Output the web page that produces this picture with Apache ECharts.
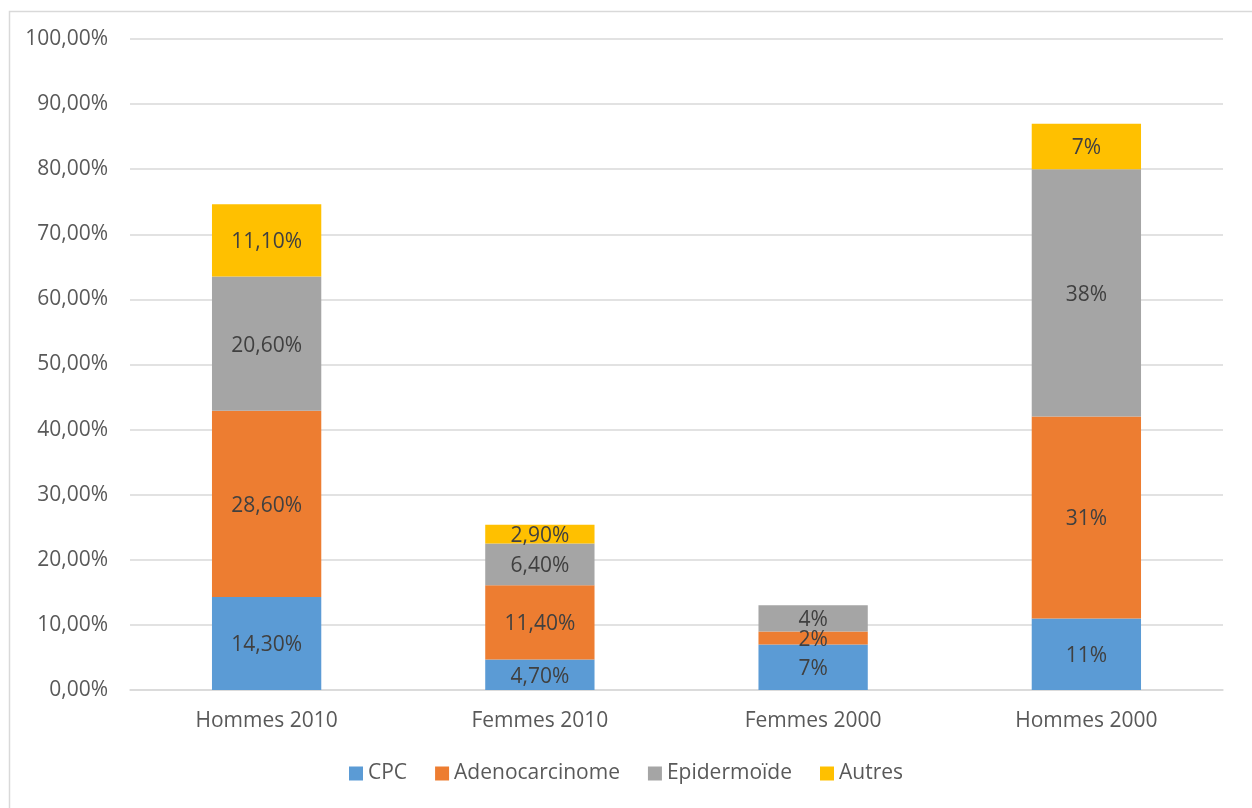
<!DOCTYPE html>
<html><head><meta charset="utf-8">
<script src="https://cdn.jsdelivr.net/npm/echarts@6/dist/echarts.min.js"></script>
<style>html,body{margin:0;padding:0;background:#fff}#c{width:1252px;height:808px}</style>
</head><body><div id="c"></div>
<script>
const categories = ['Hommes 2010', 'Femmes 2010', 'Femmes 2000', 'Hommes 2000'];
const labelDecimals = [2, 2, 0, 0];
const cpc = [14.3, 4.7, 7, 11];
const adeno = [28.6, 11.4, 2, 31];
const epid = [20.6, 6.4, 4, 38];
const autres = [11.1, 2.9, 0, 7];
const yTicks = [0, 10, 20, 30, 40, 50, 60, 70, 80, 90, 100];

const FONT = 'Open Sans';
function fmt(p) {
  if (!p.value) return '';
  return p.value.toFixed(labelDecimals[p.dataIndex]).replace('.', ',') + '%';
}
function mk(name, data, color) {
  return {
    name, type: 'bar', stack: 's', data, barWidth: '40%',
    itemStyle: { color },
    label: { show: true, position: 'inside', formatter: fmt, color: '#404040', fontSize: 21, fontFamily: FONT, offset: [0, 2] },
    emphasis: { disabled: true }
  };
}
const chart = echarts.init(document.getElementById('c'));
chart.setOption({
  animation: false,
  graphic: [{ type: 'rect', left: 7, top: 9, shape: { width: 1300, height: 900 }, style: { fill: 'none', stroke: '#d9d9d9', lineWidth: 1.5 } }],
  grid: { left: 130, right: 29, top: 39, bottom: 118 },
  legend: {
    bottom: 19, left: 'center', itemWidth: 14, itemHeight: 14, itemGap: 28, icon: 'rect',
    textStyle: { color: '#595959', fontSize: 21, fontFamily: FONT },
    data: ['CPC', 'Adenocarcinome', 'Epidermoïde', 'Autres']
  },
  xAxis: {
    type: 'category', data: categories,
    axisLine: { lineStyle: { color: '#d9d9d9', width: 1.5 } },
    axisTick: { show: false },
    axisLabel: { color: '#595959', fontSize: 21, fontFamily: FONT, margin: 21 }
  },
  yAxis: {
    type: 'value', min: yTicks[0], max: yTicks[yTicks.length - 1], interval: 10,
    axisLine: { show: false }, axisTick: { show: false },
    splitLine: { lineStyle: { color: '#d9d9d9', width: 1.5 } },
    axisLabel: { color: '#595959', fontSize: 21, fontFamily: FONT, margin: 22,
      formatter: v => v.toFixed(2).replace('.', ',') + '%' }
  },
  series: [
    mk('CPC', cpc, '#5B9BD5'),
    mk('Adenocarcinome', adeno, '#ED7D31'),
    mk('Epidermoïde', epid, '#A5A5A5'),
    mk('Autres', autres, '#FFC000')
  ]
});
</script></body></html>
